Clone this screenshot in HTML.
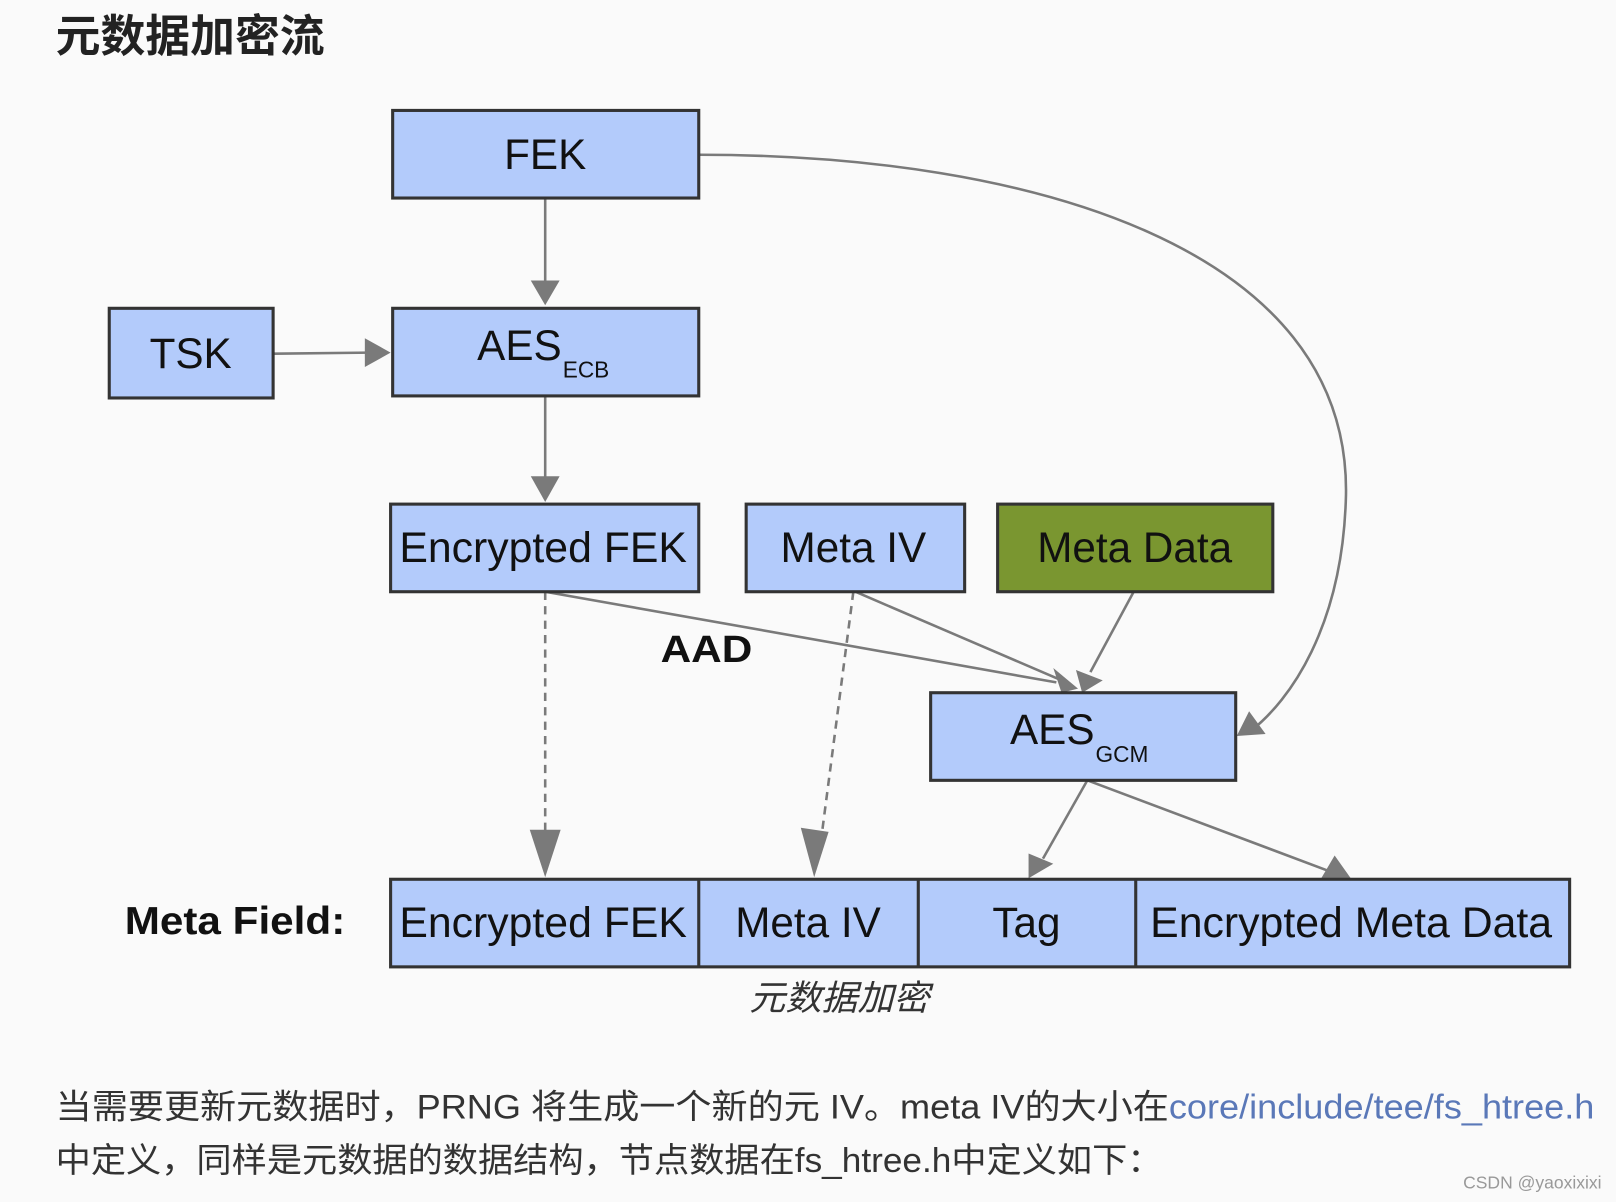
<!DOCTYPE html>
<html><head><meta charset="utf-8"><style>
html,body{margin:0;padding:0;background:#fafafa;}
svg{display:block;}
.b{fill:#b3cbfb;stroke:#333;stroke-width:3;}
.t{font-family:"Liberation Sans",sans-serif;font-size:41px;fill:#111;text-anchor:middle;}
.s{font-family:"Liberation Sans",sans-serif;font-size:22px;fill:#111;}
.a{stroke:#7a7a7a;stroke-width:2.5;fill:none;}
.h{fill:#7a7a7a;}
</style></head><body>
<svg width="1616" height="1202" viewBox="0 0 1568 1166" xmlns="http://www.w3.org/2000/svg">
<rect width="1568" height="1166" fill="#fafafa"/>
<text x="54" y="50" font-family="'Liberation Sans','Noto Sans CJK SC',sans-serif" font-size="43" font-weight="bold" fill="#222" textLength="261" lengthAdjust="spacingAndGlyphs">元数据加密流</text>

<!-- connectors -->
<line class="a" x1="529" y1="192" x2="529" y2="276"/>
<polygon class="h" points="515,272 543,272 529,296"/>
<line class="a" x1="266" y1="343" x2="358" y2="342"/>
<polygon class="h" points="354,328 354,356 379,342"/>
<line class="a" x1="529" y1="384" x2="529" y2="466"/>
<polygon class="h" points="515,462 543,462 529,487"/>
<path class="a" d="M678,150 C1000,150 1310,240 1306,480 C1303,610 1250,680 1215,708"/>
<polygon class="h" points="1200,714 1212,690 1228,712"/>
<line class="a" x1="529" y1="574" x2="529" y2="820" stroke-dasharray="8,6"/>
<polygon class="h" points="514,805 544,805 529,851"/>
<line class="a" x1="828" y1="574" x2="796" y2="820" stroke-dasharray="8,6"/>
<polygon class="h" points="777,803 804,807 790,851"/>
<line class="a" x1="529" y1="574" x2="1025" y2="662"/>
<line class="a" x1="830" y1="574" x2="1030" y2="660"/>
<polygon class="h" points="1022,648 1030,672 1046,668"/>
<line class="a" x1="1100" y1="574" x2="1058" y2="652"/>
<polygon class="h" points="1044,650 1070,660 1050,672"/>
<line class="a" x1="1055" y1="757" x2="1012" y2="833"/>
<polygon class="h" points="998,828 1022,838 998,852"/>
<line class="a" x1="1055" y1="757" x2="1292" y2="846"/>
<polygon class="h" points="1282,852 1295,830 1312,854"/>

<!-- boxes -->
<rect class="b" x="381" y="107" width="297" height="85"/>
<text class="t" x="529" y="164">FEK</text>
<rect class="b" x="106" y="299" width="159" height="87"/>
<text class="t" x="185" y="357">TSK</text>
<rect class="b" x="381" y="299" width="297" height="85"/>
<text class="t" x="504" y="349">AES</text>
<text class="s" x="546" y="366">ECB</text>
<rect class="b" x="379" y="489" width="299" height="85"/>
<text class="t" x="527" y="545" textLength="279" lengthAdjust="spacingAndGlyphs">Encrypted FEK</text>
<rect class="b" x="724" y="489" width="212" height="85"/>
<text class="t" x="828" y="545">Meta IV</text>
<rect x="968" y="489" width="267" height="85" fill="#7a9630" stroke="#333" stroke-width="3"/>
<text class="t" x="1101" y="545">Meta Data</text>
<rect class="b" x="903" y="672" width="296" height="85"/>
<text class="t" x="1021" y="722">AES</text>
<text class="s" x="1063" y="739">GCM</text>

<text x="641" y="642" font-family="'Liberation Sans',sans-serif" font-size="37" font-weight="bold" fill="#111" textLength="89" lengthAdjust="spacingAndGlyphs">AAD</text>
<text x="121" y="906" font-family="'Liberation Sans',sans-serif" font-size="38" font-weight="bold" fill="#111" textLength="214" lengthAdjust="spacingAndGlyphs">Meta Field:</text>

<rect class="b" x="379" y="853" width="1144" height="85"/>
<line x1="678" y1="853" x2="678" y2="938" stroke="#333" stroke-width="3"/>
<line x1="891" y1="853" x2="891" y2="938" stroke="#333" stroke-width="3"/>
<line x1="1102" y1="853" x2="1102" y2="938" stroke="#333" stroke-width="3"/>
<text class="t" x="527" y="909" textLength="279" lengthAdjust="spacingAndGlyphs">Encrypted FEK</text>
<text class="t" x="784" y="909">Meta IV</text>
<text class="t" x="996" y="909">Tag</text>
<text class="t" x="1311" y="909" textLength="390" lengthAdjust="spacingAndGlyphs">Encrypted Meta Data</text>

<text x="727" y="980" font-family="'Liberation Sans','Noto Sans CJK SC',sans-serif" font-size="34" font-style="italic" fill="#333" textLength="175" lengthAdjust="spacingAndGlyphs">元数据加密</text>

<text x="54" y="1085" font-family="'Liberation Sans','Noto Sans CJK SC',sans-serif" font-size="33" fill="#333" textLength="1493" lengthAdjust="spacingAndGlyphs">当需要更新元数据时，PRNG 将生成一个新的元 IV。meta IV的大小在<tspan fill="#5a78b8">core/include/tee/fs_htree.h</tspan></text>
<text x="54" y="1137" font-family="'Liberation Sans','Noto Sans CJK SC',sans-serif" font-size="33" fill="#333" textLength="1074" lengthAdjust="spacingAndGlyphs">中定义，同样是元数据的数据结构，节点数据在fs_htree.h中定义如下：</text>
<text x="1554" y="1153" text-anchor="end" font-family="'Liberation Sans',sans-serif" font-size="17" fill="#999">CSDN @yaoxixixi</text>
</svg>
</body></html>
